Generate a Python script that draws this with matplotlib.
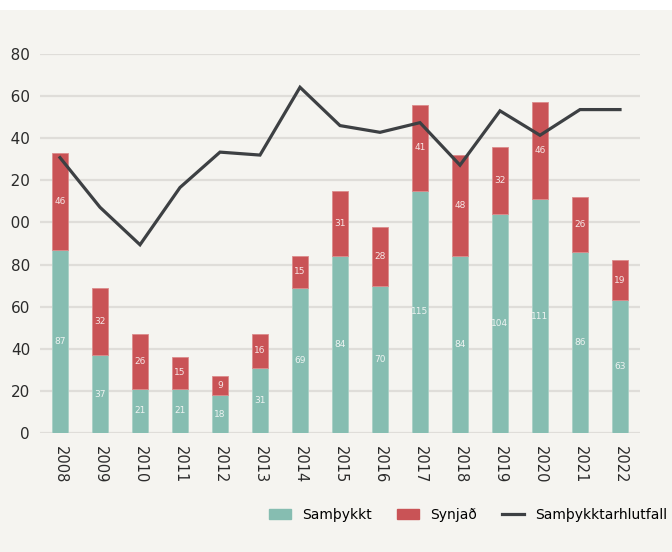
#!/usr/bin/env python3

import matplotlib
matplotlib.use("Agg")
import matplotlib.pyplot as plt
from matplotlib.patches import Rectangle
from matplotlib.lines import Line2D
from matplotlib.transforms import Bbox, TransformedBbox
import numpy as np

years = ["2008", "2009", "2010", "2011", "2012", "2013", "2014", "2015",
         "2016", "2017", "2018", "2019", "2020", "2021", "2022"]
samthykkt = [87, 37, 21, 21, 18, 31, 69, 84, 70, 115, 84, 104, 111, 86, 63]
synjad = [46, 32, 26, 15, 9, 16, 15, 31, 28, 41, 48, 32, 46, 26, 19]
# approval ratio in percent, drawn on a 0-90 % scale over the 0-180 axis
hlutfall = [65.4, 53.6, 44.7, 58.3, 66.7, 66.0, 82.1, 73.0, 71.4, 73.7,
            63.6, 76.5, 70.7, 76.8, 76.8]
yticks = [0, 20, 40, 60, 80, 100, 120, 140, 160, 180]

GREEN = "#86bdb1"
RED = "#c95356"
LINE = "#3d4043"
BG = "#f5f4f0"
GRID = "#dfddd9"


def main():
    fig = plt.figure(figsize=(6.72, 5.52), dpi=100, facecolor="white")
    fig.patches.append(Rectangle((0, 0), 1, 542 / 552, transform=fig.transFigure,
                                 facecolor=BG, edgecolor="none", zorder=-10))
    ax = fig.add_axes([40 / 672, 119 / 552, 600 / 672, 379 / 552])
    ax.set_facecolor("none")

    x = np.arange(len(years))
    ax.bar(x, samthykkt, width=0.4, color=GREEN, edgecolor="#a9d0c6",
           linewidth=0.6, zorder=3, label="Samþykkt")
    ax.bar(x, synjad, width=0.4, bottom=samthykkt, color=RED,
           edgecolor="#dc8c8c", linewidth=0.6, zorder=3, label="Synjað")

    for i in range(len(years)):
        ax.text(x[i], samthykkt[i] / 2, str(samthykkt[i]), ha="center",
                va="center", color="#eef3f1", fontsize=6.5, zorder=4)
        ax.text(x[i], samthykkt[i] + synjad[i] / 2, str(synjad[i]),
                ha="center", va="center", color="#f6e6e6", fontsize=6.5,
                zorder=4)

    ax2 = ax.twinx()
    ax2.plot(x, hlutfall, color=LINE, linewidth=2.3, zorder=5,
             solid_joinstyle="miter")
    ax2.set_ylim(0, 90)
    ax2.axis("off")

    ax.set_xlim(-0.5, 14.5)
    ax.set_ylim(0, 180)
    ax.set_yticks(yticks)
    ax.set_yticklabels([str(t) for t in yticks], fontsize=11, color="#2b2b2b")
    ax.set_xticks(x)
    ax.set_xticklabels(years, rotation=-90, fontsize=10.5, color="#2b2b2b")
    ax.tick_params(axis="y", length=0, pad=7.2)
    ax.tick_params(axis="x", length=0, pad=9)
    ax.yaxis.grid(True, color=GRID, linewidth=1.6, zorder=0)
    ax.set_axisbelow(True)
    for s in ax.spines.values():
        s.set_visible(False)

    # the source image cuts the left edge of the y labels
    clip = TransformedBbox(Bbox.from_extents(11 / 672, 0, 1, 1), fig.transFigure)
    for lbl in ax.get_yticklabels():
        lbl.set_clip_on(True)
        lbl.set_clip_box(clip)

    handles = [
        Rectangle((0, 0), 1, 1, color=GREEN),
        Rectangle((0, 0), 1, 1, color=RED),
        Line2D([0], [0], color=LINE, linewidth=2.3),
    ]
    fig.legend(handles, ["Samþykkt", "Synjað", "Samþykktarhlutfall"],
               loc="center right", bbox_to_anchor=(1.012, 37 / 552), ncol=3,
               frameon=False, fontsize=10, handlelength=1.6,
               handleheight=0.7, columnspacing=1.8, handletextpad=0.8)

    fig.savefig("out.png", dpi=100, facecolor=fig.get_facecolor())


if __name__ == "__main__":
    main()
